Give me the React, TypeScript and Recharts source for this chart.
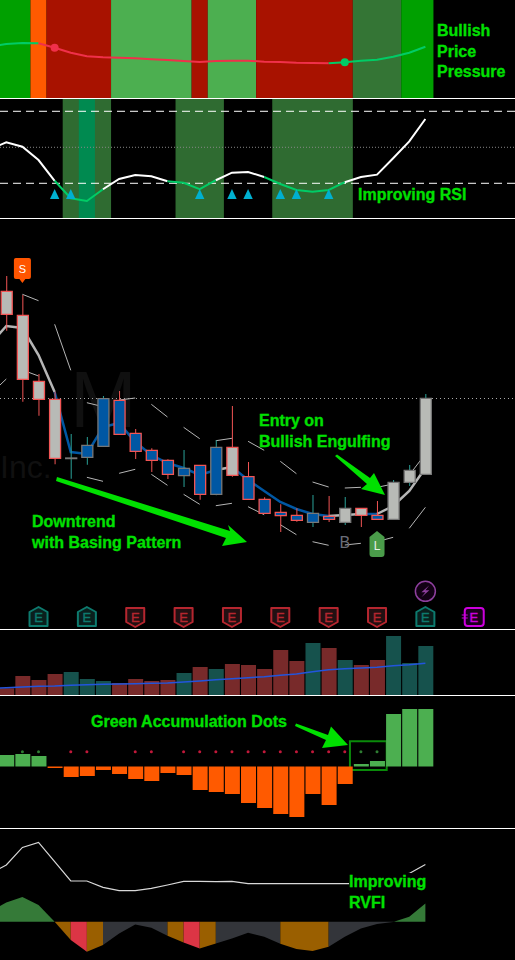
import React from "react";
import {
  Area,
  Bar,
  Cell,
  ComposedChart,
  Line,
  ReferenceArea,
  ReferenceDot,
  ReferenceLine,
  XAxis,
  YAxis,
} from "recharts";

const WIDTH = 515;
const LEFT_EDGE = -0.39;
const RIGHT_EDGE = 31.56;
// the session before the first full candle, only its line values are used
const PREVIOUS = -1;

// bar colours
const GREEN = "#00a000";
const ORANGE = "#ff5a00";
const RED = "#a81200";
const LIGHT_GREEN = "#4caf50";
const DARK_GREEN = "#347535";
const LINE_GREEN = "#00cc66";
const LINE_RED = "#f0304a";
const BODY_BLUE = "#0057a3";
const BODY_GRAY = "#b8bab6";
const EDGE_RED = "#f25555";
const EDGE_GRAY = "#777777";
const WICK_TEAL = "#2aa198";
const LABEL_GREEN = "#00e000";

// price pane, one entry per session
const bodyTop = [33.77, 31.37, 24.77, 22.97, 17.1, 18.37, 23.03, 22.87, 19.57, 17.87, 16.87, 16.07, 16.37, 18.17, 18.17, 15.23, 12.97, 11.67, 11.37, 11.57, 11.27, 12.07, 12.07, 11.37, 14.67, 15.87, 23.07];
const bodyBottom = [31.47, 24.97, 22.97, 17.07, 17.04, 17.17, 18.27, 19.47, 17.77, 16.87, 15.47, 15.33, 13.47, 13.47, 15.37, 12.97, 11.57, 11.33, 10.87, 10.67, 10.97, 10.67, 11.37, 10.97, 10.97, 14.67, 15.47];
const wickHigh = [35.3, 33.4, 25.5, 23.73, 19.5, 19.2, 23.3, 23.8, 20.0, 18.07, 16.97, 17.9, 16.4, 18.87, 22.3, 16.7, 13.17, 12.47, 12.07, 13.4, 13.3, 13.2, 12.07, 12.8, 14.9, 16.4, 23.5];
const wickLow = [29.83, 22.73, 21.33, 16.47, 15.03, 16.43, 18.27, 19.47, 17.0, 15.7, 15.0, 14.2, 12.93, 13.37, 15.23, 12.97, 11.57, 9.7, 10.73, 10.2, 10.7, 10.4, 10.2, 10.97, 10.97, 14.3, 15.47];
const bodyColors = ["g", "g", "g", "g", "g", "b", "b", "b", "b", "b", "b", "b", "b", "b", "g", "b", "b", "b", "b", "b", "b", "g", "g", "b", "g", "g", "g"];
const candleUp = [false, false, false, false, true, true, true, false, false, false, false, true, false, true, false, false, false, false, false, true, false, true, false, false, true, true, true];
const priceAverage = [30.3, 30.1, 27.4, 23.7, 17.7, 17.5, 20.2, 20.6, 18.7, 17.4, 16.6, 16.1, 15.4, 15.9, 16.2, 14.9, 13.8, 12.7, 12.0, 11.5, 11.3, 11.4, 11.5, 11.5, 12.3, 13.8, 16.1];
const priceAveragePrev = 28.5;
const priceAverageZones: [number, number, string][] = [
  [PREVIOUS, 3, "#b5b5b5"],
  [3, 13, BODY_BLUE],
  [13, 14, "#b5b5b5"],
  [14, 20, BODY_BLUE],
  [20, 22, "#b5b5b5"],
  [22, 23, BODY_BLUE],
  [23, 26, "#b5b5b5"],
];
const priceLevel = 23.05;
// short grey channel pieces: from, to, price, price
const channelPieces = [
  [LEFT_EDGE, 0, 24.4, 25.0],
  [1, 2, 33.47, 32.83],
  [1, 2, 25.9, 25.3],
  [3, 4, 30.47, 25.87],
  [5, 6, 22.63, 22.23],
  [7, 8, 22.9, 23.1],
  [9, 10, 22.47, 21.2],
  [11, 12, 20.17, 19.03],
  [13, 14, 18.83, 19.07],
  [15, 16, 18.77, 17.87],
  [17, 18, 16.77, 15.53],
  [19, 20, 14.7, 14.2],
  [21, 22, 14.1, 14.17],
  [23, 24, 14.17, 14.5],
  [25, 26, 15.4, 17.5],
  [5, 6, 15.17, 14.77],
  [7, 8, 15.57, 15.97],
  [9, 10, 15.47, 14.37],
  [11, 12, 13.47, 12.47],
  [13, 14, 12.33, 12.57],
  [15, 16, 12.23, 11.43],
  [17, 18, 10.43, 9.43],
  [19, 20, 8.73, 8.37],
  [21, 22, 8.4, 8.57],
  [23, 24, 8.73, 9.17],
  [25, 26, 10.07, 12.17],
];
const earningsLevel = 1.2;
const earningsBadges: [number, string][] = [
  [2, "up"],
  [5, "up"],
  [8, "down"],
  [11, "down"],
  [14, "down"],
  [17, "down"],
  [20, "down"],
  [23, "down"],
  [26, "up"],
  [29, "future"],
];

// top pane
const pressure = [54, 55, 54.7, 50.3, 45.3, 41.7, 40.7, 40.3, 39.7, 38.7, 38, 37, 36, 37, 37.3, 37.3, 36.3, 36, 35.3, 35, 34.7, 35.7, 37.3, 38.3, 41.3, 45.3, 51.3];
const pressurePrev = 51.4;
const pressureBands: [number, number, string][] = [
  [LEFT_EDGE, 1.5, GREEN],
  [1.5, 2.5, ORANGE],
  [2.5, 6.5, RED],
  [6.5, 11.5, LIGHT_GREEN],
  [11.5, 12.5, RED],
  [12.5, 15.5, LIGHT_GREEN],
  [15.5, 21.5, RED],
  [21.5, 24.5, DARK_GREEN],
  [24.5, 26.5, GREEN],
];
const pressureZones: [number, number, string][] = [
  [PREVIOUS, 2, LINE_GREEN],
  [2, 20, LINE_RED],
  [20, 26, LINE_GREEN],
];

// RSI pane
const rsi = [52.8, 50.3, 42.9, 31.4, 21.7, 20.2, 26.7, 32.4, 34.6, 33.9, 31.1, 30.3, 26.7, 31.7, 35.9, 36.3, 33.5, 29.6, 26.3, 25.3, 26.3, 30.6, 33.5, 34.8, 43.9, 53.3, 65.7];
const rsiPrev = 48.9;
const rsiBands: [number, number, string][] = [
  [3.5, 6.5, "#2f6b31"],
  [4.5, 5.5, "#008a50"],
  [10.5, 13.5, "#2f6b31"],
  [16.5, 21.5, "#2f6b31"],
];
const rsiZones: [number, number, string][] = [
  [PREVIOUS, 3, "#ffffff"],
  [3, 6, LINE_GREEN],
  [6, 10, "#ffffff"],
  [10, 13, LINE_GREEN],
  [13, 16, "#ffffff"],
  [16, 21, LINE_GREEN],
  [21, 26, "#ffffff"],
];
const rsiTriangles = [3, 4, 12, 14, 15, 17, 18, 20];
const rsiTriangleLevel = 24.1;

// volume pane
const volume = [6.7, 19, 15, 21, 23, 16, 14, 12, 16, 14, 15, 22, 28, 26, 31, 30, 26, 45, 34, 52, 47, 35, 30, 35, 59, 32, 49];
const volumeAverage = [7.3, 8, 8.7, 9, 9.7, 10.3, 10.7, 11, 11.3, 11.7, 12, 13, 14, 15.3, 16.3, 17.3, 18.3, 19.7, 21, 23.3, 25.3, 26.3, 27, 27.7, 29.3, 30.3, 31.7];
const volumeAveragePrev = 6.5;
const volumeTeal = [4, 5, 6, 11, 13, 19, 21, 24, 25, 26];

// accumulation histogram
const accumulation = [11.5, 12.5, 10.5, -1.5, -10.5, -9.5, -3.5, -7.5, -12.5, -14.5, -6.5, -8.5, -23.5, -25.5, -27.5, -36.5, -41.5, -47.5, -50.5, -27.5, -38.5, -17.5, 2.5, 5.5, 52.5, 57.5, 57.5];
const greenDots = [1, 2, 22, 23];
const redDots = [4, 5, 8, 9, 11, 12, 13, 14, 15, 16, 17, 18, 19, 20, 21];
const dotLevel = 14.8;

// RVFI pane
const rvfiLine = [56.7, 74.3, 79.3, 60, 40.7, 40.7, 34.3, 31, 31, 33.3, 36.7, 40.3, 40.3, 40, 40.3, 38, 38, 38, 38, 38, 38, 38, 38, 39, 43, 48.3, 57.3];
const rvfiLinePrev = 48;
const rvfiArea = [19.3, 24.7, 16.7, 0, -18.3, -30, -23.3, -11.7, -2.7, -6, -14, -20.7, -26.7, -21.7, -16.7, -11, -15, -22, -27.3, -29.3, -25, -15, -6.7, -2.3, -0.3, 5, 18.3];
const rvfiAreaPrev = 10.1;
const rvfiZones: [number, number, string][] = [
  [PREVIOUS, 3, "#357a38"],
  [3, 4, "#9a5f00"],
  [4, 5, "#dc3545"],
  [5, 6, "#9a5f00"],
  [6, 10, "#33353a"],
  [10, 11, "#9a5f00"],
  [11, 12, "#dc3545"],
  [12, 13, "#9a5f00"],
  [13, 17, "#33353a"],
  [17, 20, "#9a5f00"],
  [20, 24, "#33353a"],
  [24, 26, "#357a38"],
];

const between = (value: number | null, x: number, from: number, to: number) =>
  x >= from && x <= to ? value : null;

function withPrevious(values: number[], previous: number) {
  return [{ x: PREVIOUS, value: previous }, ...values.map((value, x) => ({ x, value }))];
}

function Pane({ top, height, domain, data, children }: any) {
  return (
    <div style={{ position: "absolute", left: 0, top, width: WIDTH, height }}>
      <ComposedChart width={WIDTH} height={height} data={data} margin={{ top: 0, right: 0, bottom: 0, left: 0 }}>
        <XAxis type="number" dataKey="x" domain={[LEFT_EDGE, RIGHT_EDGE]} hide allowDataOverflow />
        <YAxis type="number" domain={domain} hide allowDataOverflow />
        {children}
      </ComposedChart>
    </div>
  );
}

function zoneLines(rows: any[], zones: [number, number, string][], width: number) {
  return zones.map(([from, to, color]) => (
    <Line
      key={`${from}-${to}`}
      data={rows}
      type="linear"
      dataKey={(d: any) => between(d.value, d.x, from, to)}
      stroke={color}
      strokeWidth={width}
      dot={false}
      isAnimationActive={false}
    />
  ));
}

function Triangle({ cx, cy }: any) {
  return <path d={`M${cx} ${cy - 5}L${cx + 4.7} ${cy + 5}L${cx - 4.7} ${cy + 5}Z`} fill="#00b0d0" />;
}

function EarningsBadge({ cx, cy, kind }: any) {
  if (kind === "future") {
    return (
      <g>
        <rect x={cx - 9} y={cy - 9} width={19} height={18} rx={3} fill="#1a001c" stroke="#cc00dd" strokeWidth={2} />
        <path d={`M${cx - 12} ${cy - 2}h6M${cx - 12} ${cy + 1}h6`} stroke="#cc00dd" strokeWidth={1} />
        <text x={cx} y={cy + 5} textAnchor="middle" fontSize={13} fontFamily="Liberation Sans" stroke="#cc00dd" strokeWidth={0.4} fill="#cc00dd">E</text>
      </g>
    );
  }
  const color = kind === "up" ? "#0d7a6e" : "#b5262f";
  const fill = kind === "up" ? "#0a1f1d" : "#221012";
  const d =
    kind === "up"
      ? `M${cx} ${cy - 10}L${cx + 9} ${cy - 5}V${cy + 9}H${cx - 9}V${cy - 5}Z`
      : `M${cx - 9} ${cy - 9}H${cx + 9}V${cy + 5}L${cx} ${cy + 10}L${cx - 9} ${cy + 5}Z`;
  return (
    <g>
      <path d={d} fill={fill} stroke={color} strokeWidth={2} strokeLinejoin="round" />
      <text x={cx} y={cy + 5} textAnchor="middle" fontSize={13} fontFamily="Liberation Sans" stroke={color} strokeWidth={0.4} fill={color}>E</text>
    </g>
  );
}

function Bolt({ cx, cy }: any) {
  return (
    <g>
      <circle cx={cx} cy={cy} r={10} fill="#120014" stroke="#8e3f9e" strokeWidth={1.5} />
      <path d={`M${cx + 4} ${cy - 6}L${cx - 4} ${cy + 1}H${cx}L${cx - 4} ${cy + 6}L${cx + 4} ${cy - 1}H${cx}Z`} fill="#8e3f9e" />
    </g>
  );
}

function SellFlag({ cx, cy }: any) {
  return (
    <g>
      <path
        d={`M${cx - 8.5} ${cy - 11}q0 -2 2 -2H${cx + 6.5}q2 0 2 2V${cy + 6}q0 2 -2 2H${cx + 3}L${cx} ${cy + 12}L${cx - 3} ${cy + 8}H${cx - 6.5}q-2 0 -2 -2Z`}
        fill="#ff5500"
      />
      <text x={cx} y={cy + 2} textAnchor="middle" fontSize={11} fontFamily="Liberation Sans" fill="#ffffff">S</text>
    </g>
  );
}

function LongFlag({ cx, cy }: any) {
  return (
    <g>
      <path
        d={`M${cx} ${cy - 13}L${cx + 7.5} ${cy - 7}V${cy + 10}q0 3 -3 3H${cx - 4.5}q-3 0 -3 -3V${cy - 7}Z`}
        fill="#4a9c4a"
      />
      <text x={cx} y={cy + 6} textAnchor="middle" fontSize={12} fontFamily="Liberation Sans" fill="#e8f0e8">L</text>
    </g>
  );
}

function BuyLetter({ cx, cy }: any) {
  return (
    <text x={cx} y={cy + 6} textAnchor="middle" fontSize={16} fontFamily="Liberation Sans" fill="#6b6e78">B</text>
  );
}

function PriceDot({ cx, cy, color }: any) {
  return <circle cx={cx} cy={cy} r={4} fill={color} />;
}

function SmallDot({ cx, cy, color }: any) {
  return <circle cx={cx} cy={cy} r={1.5} fill={color} />;
}

function Label({ left, center, children, box }: any) {
  return (
    <div
      style={{
        position: "absolute",
        left,
        top: center - 9,
        height: 18,
        lineHeight: "18px",
        fontFamily: "Liberation Sans, Arial, sans-serif",
        fontWeight: "bold",
        fontSize: 16,
        whiteSpace: "nowrap",
        color: LABEL_GREEN,
        WebkitTextStroke: "0.3px #00e000",
        background: box ? "#000000" : undefined,
      }}
    >
      {children}
    </div>
  );
}

function Rule({ top }: { top: number }) {
  return <div style={{ position: "absolute", left: 0, top, width: WIDTH, height: 1, background: "#ffffff" }} />;
}

const priceRows = bodyTop.map((top, x) => ({
  x,
  body: [bodyBottom[x], top],
  wick: [wickLow[x], wickHigh[x]],
}));

export default function App() {
  const volumeRows = volume.map((value, x) => ({ x, value }));
  const accumulationRows = accumulation.map((value, x) => ({ x, value }));
  const rvfiRows = withPrevious(rvfiArea, rvfiAreaPrev);

  return (
    <div style={{ position: "absolute", left: 0, top: 0, width: WIDTH, height: 960, background: "#000000", overflow: "hidden" }}>
      <Pane top={0} height={98} domain={[0, 98]} data={withPrevious(pressure, pressurePrev)}>
        {pressureBands.map(([x1, x2, color]) => (
          <ReferenceArea key={x1} x1={x1} x2={x2} y1={0} y2={98} fill={color} fillOpacity={1} stroke="none" />
        ))}
        {zoneLines(withPrevious(pressure, pressurePrev), pressureZones, 2)}
        <ReferenceDot x={3} y={pressure[3]} shape={(p: any) => <PriceDot {...p} color={LINE_RED} />} />
        <ReferenceDot x={21} y={pressure[21]} shape={(p: any) => <PriceDot {...p} color={LINE_GREEN} />} />
      </Pane>
      <Rule top={98} />

      <Pane top={99} height={119} domain={[10.72, 76.83]} data={withPrevious(rsi, rsiPrev)}>
        {rsiBands.map(([x1, x2, color]) => (
          <ReferenceArea key={x1} x1={x1} x2={x2} y1={10.72} y2={76.83} fill={color} fillOpacity={1} stroke="none" />
        ))}
        <ReferenceLine y={70} stroke="#ffffff" strokeDasharray="8 5" />
        <ReferenceLine y={50} stroke="#888888" strokeDasharray="1 2" />
        <ReferenceLine y={30} stroke="#ffffff" strokeDasharray="8 5" />
        {zoneLines(withPrevious(rsi, rsiPrev), rsiZones, 2)}
        {rsiTriangles.map((x) => (
          <ReferenceDot key={x} x={x} y={rsiTriangleLevel} shape={(p: any) => <Triangle {...p} />} />
        ))}
      </Pane>
      <Rule top={218} />

      <div style={{ position: "absolute", left: 70, top: 360, lineHeight: "80px", fontFamily: "Liberation Sans", fontSize: 80, color: "#101010" }}>M</div>
      <div style={{ position: "absolute", left: 0, top: 447, lineHeight: "40px", fontFamily: "Liberation Sans", fontSize: 32, color: "#101010" }}>Inc.</div>

      {/* lines and channel pieces sit under the candles, so they get their own layer */}
      <Pane top={219} height={410} domain={[0, 41]} data={priceRows}>
        <ReferenceLine y={priceLevel} stroke="#aaaaaa" strokeDasharray="1 3" />
        <ReferenceDot x={23} y={8.5} shape={(p: any) => <LongFlag {...p} />} />
        <ReferenceDot x={21} y={8.7} shape={(p: any) => <BuyLetter {...p} />} />
        {channelPieces.map(([x1, x2, y1, y2], i) => (
          <ReferenceLine
            key={i}
            segment={[
              { x: x1, y: y1 },
              { x: x2, y: y2 },
            ]}
            stroke="#b5b5b5"
            strokeWidth={1}
          />
        ))}
        {zoneLines(withPrevious(priceAverage, priceAveragePrev), priceAverageZones, 2.5)}
      </Pane>
      <Pane top={219} height={410} domain={[0, 41]} data={priceRows}>
        <XAxis xAxisId="wick" type="number" dataKey="x" domain={[LEFT_EDGE, RIGHT_EDGE]} hide allowDataOverflow />
        <Bar xAxisId="wick" dataKey="wick" barSize={1} isAnimationActive={false}>
          {priceRows.map((row) => (
            <Cell key={row.x} fill={candleUp[row.x] ? WICK_TEAL : EDGE_RED} />
          ))}
        </Bar>
        <Bar dataKey="body" barSize={11} isAnimationActive={false}>
          {priceRows.map((row) => (
            <Cell
              key={row.x}
              fill={bodyColors[row.x] === "g" ? BODY_GRAY : BODY_BLUE}
              stroke={candleUp[row.x] ? EDGE_GRAY : EDGE_RED}
              strokeWidth={1.3}
            />
          ))}
        </Bar>
        <ReferenceDot x={1} y={35.8} shape={(p: any) => <SellFlag {...p} />} />
        <ReferenceDot x={26} y={3.77} shape={(p: any) => <Bolt {...p} />} />
        {earningsBadges.map(([x, kind]) => (
          <ReferenceDot key={x} x={x} y={earningsLevel} shape={(p: any) => <EarningsBadge {...p} kind={kind} />} />
        ))}
      </Pane>
      <Rule top={629} />

      <Pane top={630} height={65} domain={[0, 65]} data={volumeRows}>
        <Bar dataKey="value" barSize={15} isAnimationActive={false}>
          {volumeRows.map((row) => (
            <Cell key={row.x} fill={volumeTeal.includes(row.x) ? "#16524d" : "#782a2a"} />
          ))}
        </Bar>
        <Line
          data={withPrevious(volumeAverage, volumeAveragePrev)}
          dataKey="value"
          type="linear"
          stroke="#2255dd"
          strokeWidth={1.5}
          dot={false}
          isAnimationActive={false}
        />
      </Pane>
      <Rule top={695} />

      <Pane top={696} height={132} domain={[-61.5, 70.5]} data={accumulationRows}>
        <Bar dataKey="value" barSize={15} isAnimationActive={false}>
          {accumulationRows.map((row) => (
            <Cell key={row.x} fill={row.value >= 0 ? LIGHT_GREEN : ORANGE} />
          ))}
        </Bar>
        {greenDots.map((x) => (
          <ReferenceDot key={x} x={x} y={dotLevel} shape={(p: any) => <SmallDot {...p} color="#2e7d32" />} />
        ))}
        {redDots.map((x) => (
          <ReferenceDot key={x} x={x} y={dotLevel} shape={(p: any) => <SmallDot {...p} color="#c2183a" />} />
        ))}
        <ReferenceArea x1={21.32} x2={23.6} y1={-3.5} y2={25.2} fill="none" stroke="#0a8a0a" strokeWidth={2} />
      </Pane>
      <Rule top={828} />

      <Pane top={829} height={131} domain={[-38.3, 92.7]} data={rvfiRows}>
        {rvfiZones.map(([from, to, color]) => (
          <Area
            key={`${from}-${to}`}
            type="linear"
            dataKey={(d: any) => between(d.value, d.x, from, to)}
            baseValue={0}
            fill={color}
            fillOpacity={1}
            stroke="none"
            dot={false}
            isAnimationActive={false}
          />
        ))}
        <Line
          data={withPrevious(rvfiLine, rvfiLinePrev)}
          dataKey="value"
          type="linear"
          stroke="#d8d8d8"
          strokeWidth={1.2}
          dot={false}
          isAnimationActive={false}
        />
      </Pane>

      <svg width={WIDTH} height={960} style={{ position: "absolute", left: 0, top: 0 }}>
        <polygon points="57,477 230,531 228,525 247,542 222,546 226,538 56,481" fill={LABEL_GREEN} />
        <polygon points="337,454.5 370,478 374,473 385,495 361,489 367,484 335,456" fill={LABEL_GREEN} />
        <polygon points="296,723.5 328,735 331,726.5 348,745 322,748 326,740 295,726" fill={LABEL_GREEN} />
      </svg>

      <Label left={437} center={31}>Bullish</Label>
      <Label left={437} center={52}>Price</Label>
      <Label left={437} center={72}>Pressure</Label>
      <Label left={358} center={194.5}>Improving RSI</Label>
      <Label left={259} center={421}>Entry on</Label>
      <Label left={259} center={441.5}>Bullish Engulfing</Label>
      <Label left={32} center={522}>Downtrend</Label>
      <Label left={32} center={543}>with Basing Pattern</Label>
      <Label left={91} center={722}>Green Accumulation Dots</Label>
      <Label left={349} center={882} box>Improving</Label>
      <Label left={349} center={903}>RVFI</Label>
    </div>
  );
}
